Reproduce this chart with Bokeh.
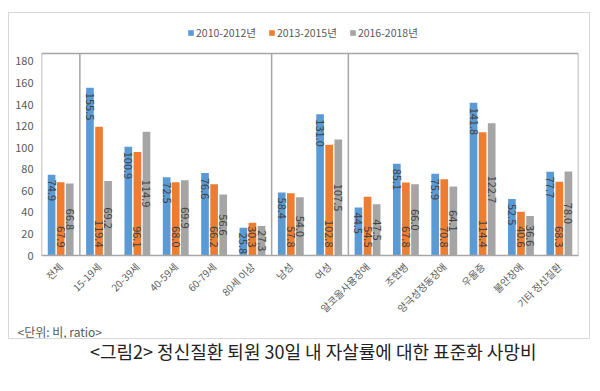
import math
from bokeh.plotting import figure
from bokeh.layouts import column
from bokeh.models import (FactorRange, Range1d, ColumnDataSource, Span, Label,
                          Legend, LegendItem, Title)
from bokeh.transform import dodge
from bokeh.core.properties import value
from bokeh.embed import file_html
from bokeh.resources import INLINE

categories = ["전체", "15-19세", "20-39세", "40-59세", "60-79세", "80세 이상",
              "남성", "여성", "알코올사용장애", "조현병", "양극성정동장애",
              "우울증", "불안장애", "기타 정신질환"]
series_names = ["2010-2012년", "2013-2015년", "2016-2018년"]
v2010 = [74.9, 155.5, 100.9, 72.5, 76.6, 25.8, 58.4, 131.0, 44.5, 85.1, 75.9, 141.8, 52.5, 77.7]
v2013 = [67.9, 119.4, 96.1, 68.0, 66.2, 30.3, 57.8, 102.8, 54.5, 67.8, 70.8, 114.4, 40.6, 68.3]
v2016 = [66.8, 69.2, 114.9, 69.9, 56.6, 27.3, 54.0, 107.5, 47.5, 66.0, 64.1, 122.7, 36.6, 78.0]
y_ticks = [0, 20, 40, 60, 80, 100, 120, 140, 160, 180]
group_starts = ["15-19세", "남성", "알코올사용장애"]
unit_text = "<단위: 비, ratio>"
caption_text = "<그림2> 정신질환 퇴원 30일 내 자살률에 대한 표준화 사망비"

colors = ["#5B9BD5", "#ED7D31", "#A5A5A5"]
FONT = "Noto Sans CJK KR"
AREA_TOP = 187.5      # top edge of the plot-area box
Y_END = 218.0         # range extended upward to host the legend
LINE = "#a6a6a6"

src = ColumnDataSource(dict(
    cat=categories, v1=v2010, v2=v2013, v3=v2016,
    v3h=[v / 2 for v in v2016],
    t1=[f"{v:.1f}" for v in v2010], t2=[f"{v:.1f}" for v in v2013], t3=[f"{v:.1f}" for v in v2016],
    zero=[0] * len(categories),
))

p = figure(width=582, height=327, output_backend="svg", toolbar_location=None,
           x_range=FactorRange(factors=categories, range_padding=0),
           y_range=Range1d(0, Y_END),
           min_border_left=32, min_border_right=13, min_border_top=7, min_border_bottom=85,
           margin=(12, 0, 0, 8),
           styles={"border": "1px solid #d9d9d9"})

off = 0.237
bw = 0.2
keys = ["v1", "v2", "v3"]
offsets = [-off, 0, off]
rends = []
for k, o, c in zip(keys, offsets, colors):
    rends.append(p.vbar(x=dodge("cat", o, range=p.x_range), top=k, width=bw, source=src,
                        fill_color=c, line_color=None))

lab_color = "#404040"
common = dict(source=src, angle=-math.pi / 2, text_font=value(FONT),
              text_font_size="11px", text_color=lab_color, text_baseline="middle")
p.text(x=dodge("cat", offsets[0], range=p.x_range), y="v1", text="t1",
       text_align="left", y_offset=5, **common)
p.text(x=dodge("cat", offsets[1], range=p.x_range), y="zero", text="t2",
       text_align="right", y_offset=-8, **common)
p.text(x=dodge("cat", offsets[2], range=p.x_range), y="v3h", text="t3",
       text_align="center", **common)

# plot-area box: left edge + group separators, right edge, top edge
left_src = ColumnDataSource(dict(c=[categories[0]] + group_starts,
                                 y0=[0] * (len(group_starts) + 1),
                                 y1=[AREA_TOP] * (len(group_starts) + 1)))
right_src = ColumnDataSource(dict(c=[categories[-1]], y0=[0], y1=[AREA_TOP]))
p.segment(x0=dodge("c", -0.5, range=p.x_range), x1=dodge("c", -0.5, range=p.x_range),
          y0="y0", y1="y1", source=left_src, line_color=LINE, line_width=1.5)
p.segment(x0=dodge("c", 0.5, range=p.x_range), x1=dodge("c", 0.5, range=p.x_range),
          y0="y0", y1="y1", source=right_src, line_color=LINE, line_width=1.5)
p.add_layout(Span(location=AREA_TOP, dimension="width", line_color=LINE, line_width=1.5))

p.outline_line_color = None
p.xgrid.grid_line_color = None
p.ygrid.grid_line_color = None

p.yaxis.ticker = y_ticks
p.yaxis.axis_line_color = None
p.yaxis.major_tick_line_color = None
p.yaxis.minor_tick_line_color = None
p.yaxis.major_tick_out = 0
p.yaxis.major_label_standoff = 8
p.yaxis.major_label_text_font = FONT
p.yaxis.major_label_text_font_size = "11px"
p.yaxis.major_label_text_color = "#595959"

p.xaxis.axis_line_color = LINE
p.xaxis.axis_line_width = 1.5
p.xaxis.major_tick_line_color = None
p.xaxis.minor_tick_line_color = None
p.xaxis.major_tick_out = 0
p.xaxis.major_label_orientation = math.pi / 4
p.xaxis.major_label_standoff = 9
p.xaxis.major_label_text_font = FONT
p.xaxis.major_label_text_font_size = "10px"
p.xaxis.major_label_text_color = "#595959"

lg = Legend(items=[LegendItem(label=n, renderers=[r]) for n, r in zip(series_names, rends)],
            orientation="horizontal", location=(146, 215))
lg.border_line_color = None
lg.background_fill_alpha = 0
lg.glyph_width = 7
lg.glyph_height = 7
lg.label_text_font = FONT
lg.label_text_font_size = "10.5px"
lg.label_text_color = "#595959"
lg.label_standoff = 2
lg.spacing = 12
lg.padding = 0
lg.margin = 0
p.add_layout(lg)

p.add_layout(Title(text=unit_text, align="left", offset=-24, standoff=-6,
                   text_font=FONT, text_font_size="12px", text_color="#595959",
                   text_font_style="normal"), "below")

cap = figure(width=600, height=30, output_backend="svg", toolbar_location=None,
             x_range=Range1d(0, 600), y_range=Range1d(0, 30),
             min_border=0, min_border_left=0, min_border_right=0,
             min_border_top=0, min_border_bottom=0)
cap.axis.visible = False
cap.grid.visible = False
cap.outline_line_color = None
cap.add_layout(Label(x=303.5, y=19, text=caption_text, text_font=FONT,
                     text_font_size="18px", text_color="#222222",
                     text_align="center", text_baseline="middle"))

layout = column(p, cap, spacing=0)
open("out.html", "w").write(file_html(layout, INLINE))
